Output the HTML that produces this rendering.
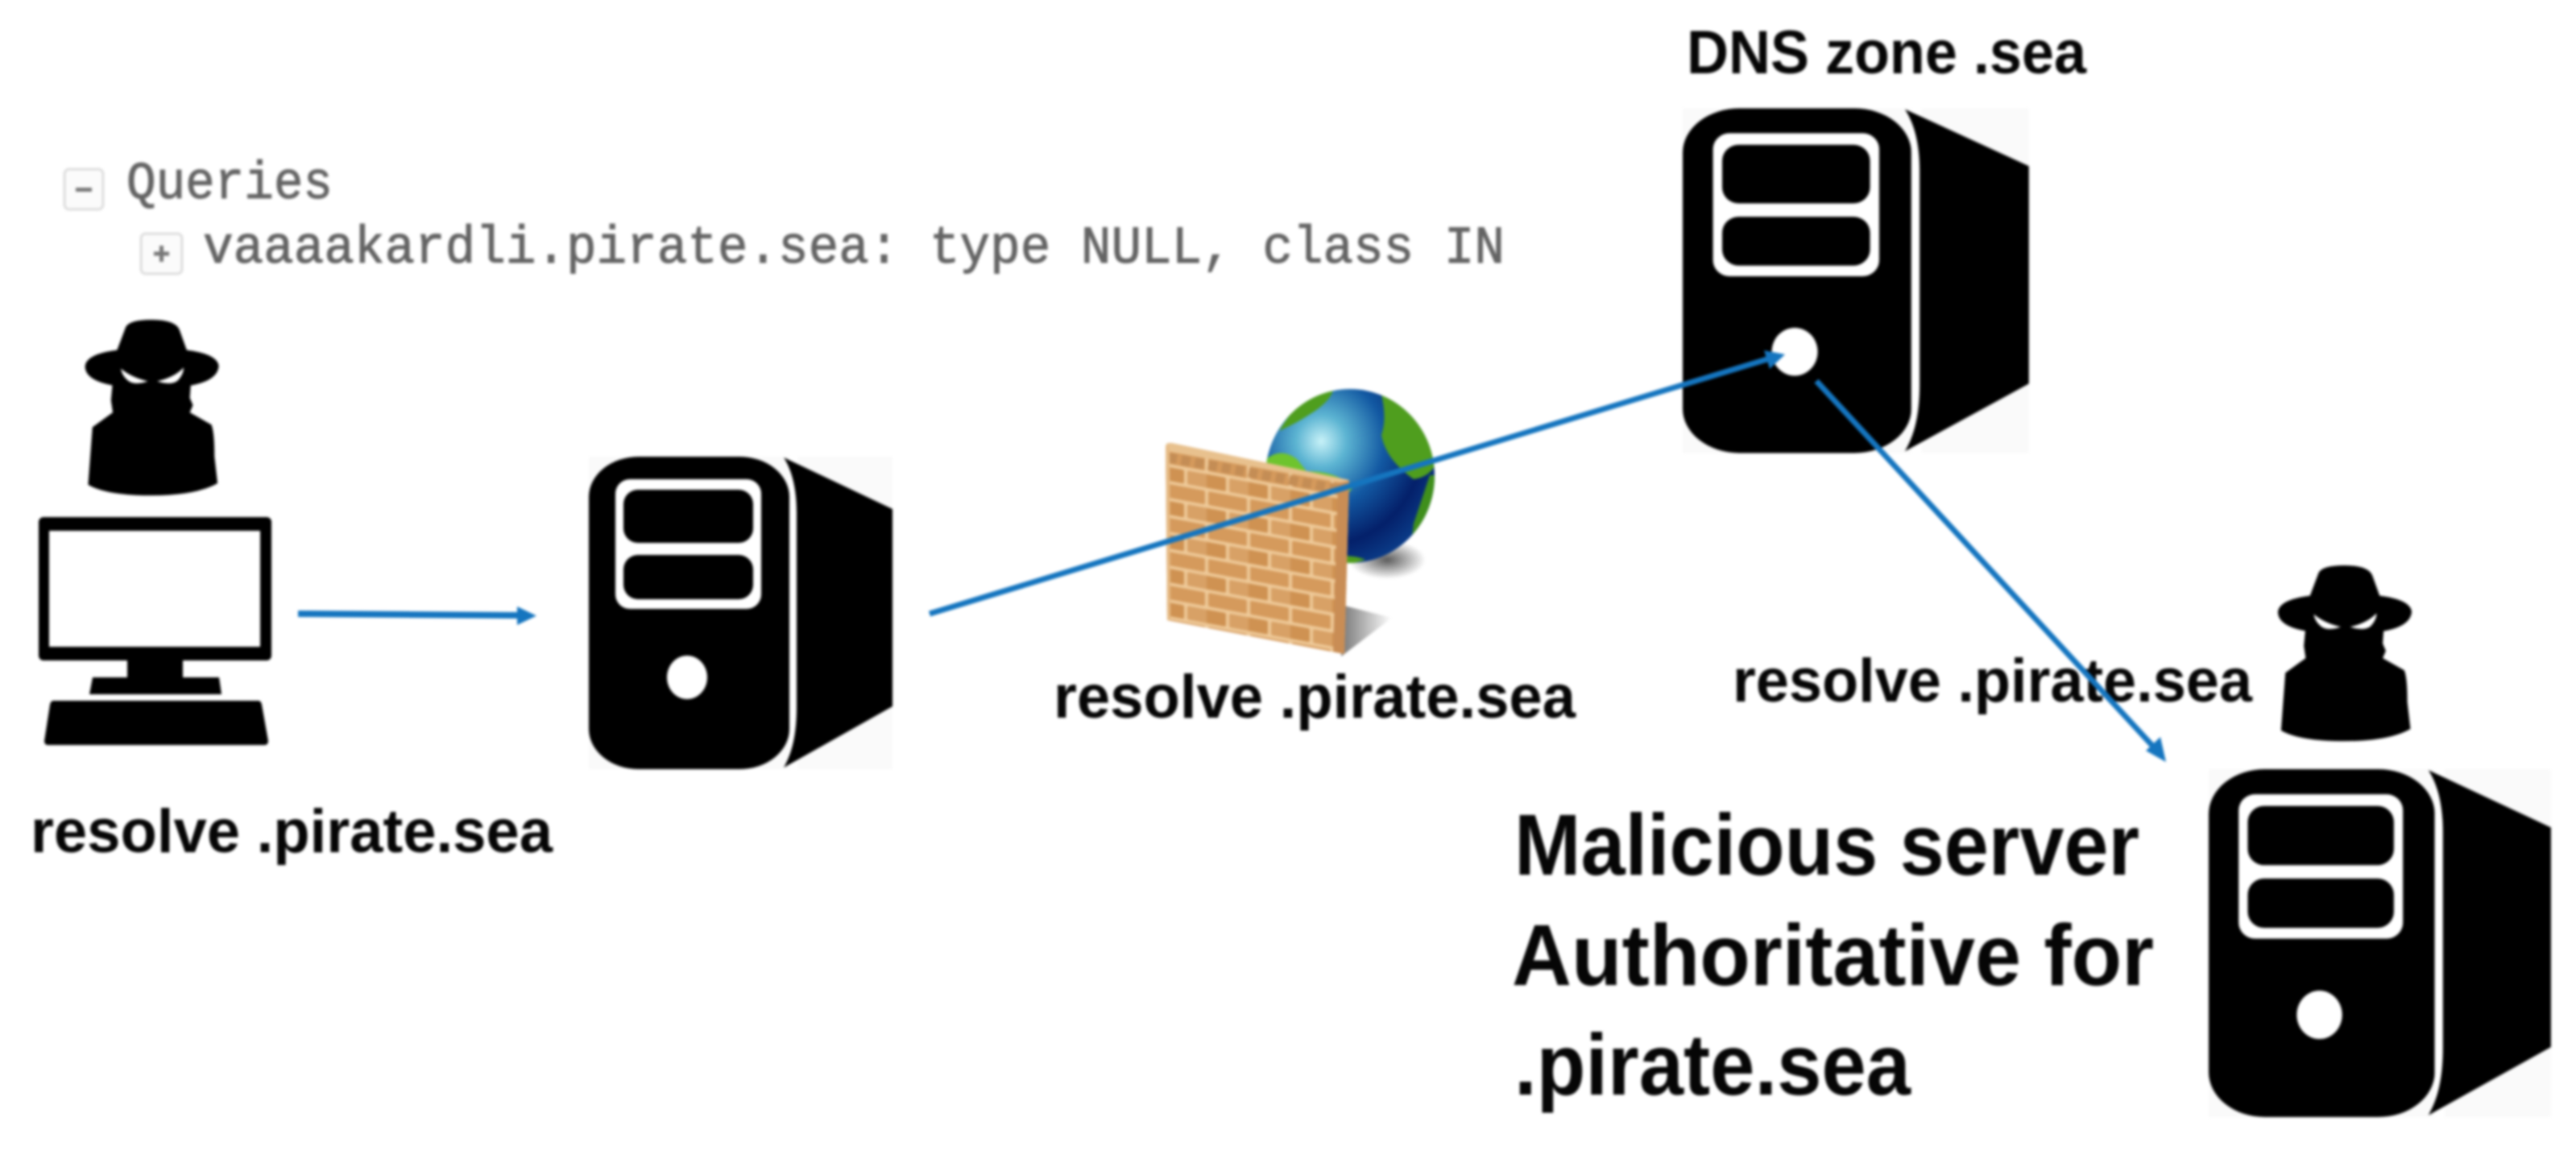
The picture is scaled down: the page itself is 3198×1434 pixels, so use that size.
<!DOCTYPE html>
<html><head><meta charset="utf-8"><style>
html,body{margin:0;padding:0;background:#fff}
svg{display:block;filter:blur(1.6px)}
.b{font-family:"Liberation Sans",sans-serif;font-weight:700;fill:#060606}
.m{font-family:"Liberation Mono",monospace;fill:#646464;stroke:#646464;stroke-width:1;font-size:66px}
</style></head><body>
<svg width="3198" height="1434" viewBox="0 0 3198 1434" xmlns="http://www.w3.org/2000/svg">
<defs>
<g id="srv">
<rect x="0" y="0" width="377" height="388" fill="#fafafa"/>
<rect x="0" y="0" width="249" height="388" rx="62" ry="50" fill="#000"/>
<rect x="33" y="28" width="181" height="161" rx="18" fill="#fff"/>
<rect x="43" y="41" width="161" height="66" rx="18" fill="#000"/>
<rect x="43" y="122" width="161" height="55" rx="18" fill="#000"/>
<ellipse cx="122" cy="274" rx="25" ry="27" fill="#fff"/>
<path d="M249,0H260V388H249Z" fill="#fff"/>
<path d="M242,1C254,20 258,45 258,70L258,310C258,340 254,365 242,386L377,310L377,65Z" fill="#000"/>
</g>
<g id="hk">
<path d="M66,15Q72,0 108,0Q146,0 153,20L165,62Q215,70 217,95Q215,125 170,135L48,135Q0,125 0,95Q2,70 52,62Z" fill="#000"/>
<path d="M45,125L172,125L170,160L175,175L170,190L205,215Q210,230 210,280L215,335Q180,360 108,360Q35,360 5,338L12,220L45,190L42,165Z" fill="#000"/>
<path d="M58,100Q75,118 102,126Q80,135 70,125Q60,115 58,100Z" fill="#fff"/>
<path d="M160,98Q145,118 117,126Q140,135 150,125Q160,112 160,98Z" fill="#fff"/>
</g>
<radialGradient id="gl" cx="0.33" cy="0.3" r="0.75">
<stop offset="0" stop-color="#c8f2f8"/><stop offset=".2" stop-color="#5cb4d2"/><stop offset=".5" stop-color="#1258a2"/><stop offset=".8" stop-color="#04206a"/><stop offset="1" stop-color="#0a3a86"/>
</radialGradient>
<pattern id="br" width="52" height="42" patternUnits="userSpaceOnUse" patternTransform="translate(1446,556) skewY(10.5)">
<rect width="52" height="42" fill="#eec998"/>
<rect x="2" y="2" width="48" height="17" rx="2" fill="#d59a5c"/>
<rect x="-24" y="23" width="48" height="17" rx="2" fill="#cf9252"/>
<rect x="28" y="23" width="48" height="17" rx="2" fill="#d8a166"/>
</pattern>
<linearGradient id="shd" x1="0" y1="0" x2="1" y2="0"><stop offset="0" stop-color="#555"/><stop offset="1" stop-color="#555" stop-opacity="0"/></linearGradient>
<radialGradient id="gs" cx=".5" cy=".5" r=".5"><stop offset="0" stop-color="#333" stop-opacity=".8"/><stop offset="1" stop-color="#333" stop-opacity="0"/></radialGradient>
<clipPath id="gc"><ellipse cx="1676" cy="591" rx="105" ry="108"/></clipPath>
</defs>

<rect x="80" y="210" width="48" height="50" rx="6" fill="#fbfbfb" stroke="#ddd" stroke-width="3"/>
<rect x="94" y="233" width="20" height="5" fill="#777"/>
<rect x="175" y="290" width="51" height="50" rx="6" fill="#fbfbfb" stroke="#ddd" stroke-width="3"/>
<path d="M191,315H210M200.500,305V325" stroke="#777" stroke-width="5"/>
<text class="m" x="157" y="246" textLength="256" lengthAdjust="spacingAndGlyphs">Queries</text>
<text class="m" x="252" y="326" textLength="1616" lengthAdjust="spacingAndGlyphs">vaaaakardli.pirate.sea: type NULL, class IN</text>

<use href="#hk" transform="translate(105.600,397) scale(.765,.606)"/>
<rect x="48" y="642" width="289" height="178" rx="6" fill="#000"/>
<rect x="61" y="659" width="262" height="144" fill="#fff"/>
<rect x="158" y="820" width="69" height="22" fill="#000"/>
<path d="M115,841H272L275,862H111Z" fill="#000"/>
<path d="M66,870H321Q324,870 325,875L333,920Q333,925 328,925H60Q55,925 55,920L62,875Q63,870 66,870Z" fill="#000"/>

<use href="#srv" transform="translate(731,567)"/>
<use href="#srv" transform="translate(2089,134.500) scale(1.14,1.103)"/>
<use href="#srv" transform="translate(2742,955) scale(1.127,1.113)"/>
<use href="#hk" transform="translate(2828,702) scale(.765,.606)"/>

<ellipse cx="1722" cy="695" rx="48" ry="24" fill="url(#gs)"/>
<ellipse cx="1676" cy="591" rx="105" ry="108" fill="url(#gl)"/>
<g clip-path="url(#gc)" fill="#4f9e1e">
<path d="M1640,483Q1615,490 1588,535Q1610,525 1625,515Q1650,500 1655,485Z"/>
<path d="M1715,490Q1722,520 1715,540Q1720,570 1755,595Q1785,590 1785,560Q1770,510 1725,485Z"/>
<path d="M1572,570Q1590,555 1610,570L1622,585Q1660,585 1680,605L1650,640L1575,600Z" fill="#6ec42e"/>
<path d="M1775,590L1790,590L1780,650L1750,690L1755,650Z" fill="#3f8f1c"/>
<path d="M1665,690Q1685,690 1695,695L1670,702Z" fill="#4f9e1e"/>
</g>

<path d="M1669,752L1728,767L1665,815Z" fill="url(#shd)" opacity=".8"/>
<polygon points="1447,554 1675,597 1669,812 1449,770" fill="url(#br)"/>
<path d="M1447,554Q1447,549 1455,550L1675,596L1668,600L1447,560Z" fill="#e8c18e"/>
<path d="M1450,568L1666,608" stroke="#c48d55" stroke-width="12" stroke-dasharray="11 6" fill="none"/>
<polygon points="1661,600 1675,597 1669,812 1655,809" fill="#c98d55"/>
<polygon points="1447,554 1452,555 1453,771 1449,770" fill="#e6bb86"/>

<text class="b" x="38" y="1058" font-size="76" textLength="648" lengthAdjust="spacingAndGlyphs">resolve .pirate.sea</text>
<text class="b" x="1308" y="891" font-size="76" textLength="648" lengthAdjust="spacingAndGlyphs">resolve .pirate.sea</text>
<text class="b" x="2151" y="871" font-size="76" textLength="645" lengthAdjust="spacingAndGlyphs">resolve .pirate.sea</text>
<text class="b" x="2094" y="91" font-size="76" textLength="496" lengthAdjust="spacingAndGlyphs">DNS zone .sea</text>
<text class="b" x="1880" y="1086" font-size="108" textLength="776" lengthAdjust="spacingAndGlyphs">Malicious server</text>
<text class="b" x="1877" y="1223" font-size="108" textLength="797" lengthAdjust="spacingAndGlyphs">Authoritative for</text>
<text class="b" x="1880" y="1359" font-size="108" textLength="492" lengthAdjust="spacingAndGlyphs">.pirate.sea</text>

<g fill="#1575bf" stroke="none">
<path d="M370,762L645,764" stroke="#1575bf" stroke-width="8" fill="none"/>
<polygon points="666,764.500 642,753 642,776"/>
<path d="M1154,762L2194,446" stroke="#1575bf" stroke-width="7" fill="none"/>
<polygon points="2216,440 2190,435 2197,458"/>
<path d="M2255,473L2676,930" stroke="#1575bf" stroke-width="7" fill="none"/>
<polygon points="2689,946 2664,932 2682,915"/>
</g>
</svg>
</body></html>
